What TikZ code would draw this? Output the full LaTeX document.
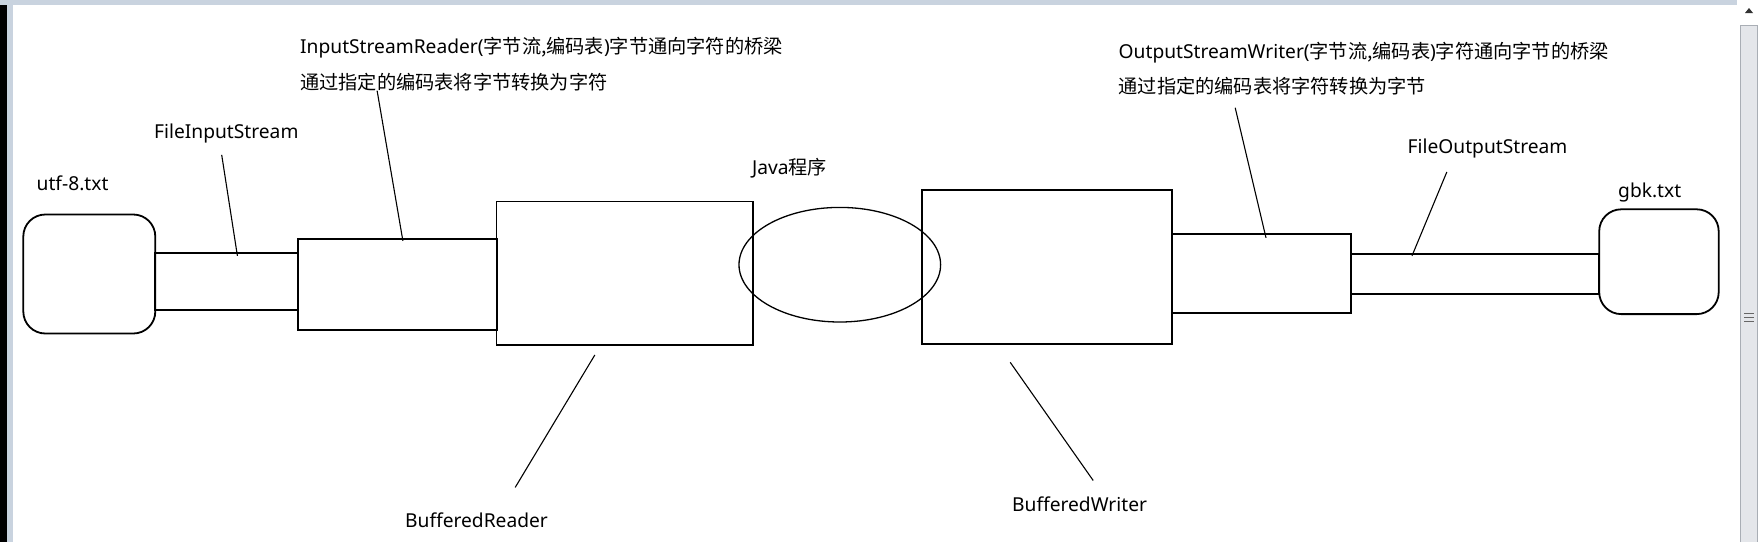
\documentclass[tikz,border=0pt]{standalone}
\usepackage{fontspec}
\usetikzlibrary{shapes.geometric}
\setmainfont{Noto Sans}
\newfontfamily\cjk{Noto Sans CJK SC}
\definecolor{framebg}{HTML}{C9D3DF}
\definecolor{thumb}{HTML}{E4E6EA}
\definecolor{thumbedge}{HTML}{A9AEB5}
\begin{document}
\begin{tikzpicture}[x=1pt,y=-1pt,
  box/.style={draw,line width=1.8pt,inner sep=0pt,anchor=north west},
  rbox/.style={box,rounded corners=22pt},
  lbl/.style={inner sep=0pt,anchor=base west,font=\fontsize{19.2}{23}\selectfont},
  leader/.style={line width=1.1pt}]
\useasboundingbox (0,0) rectangle (1760,542);
\fill[white] (0,0) rectangle (1760,542);
% screenshot frame
\fill[black] (0,5) rectangle (7,542);
\fill[framebg] (7,0) rectangle (13,542);
\fill[framebg] (0,0) rectangle (1737,5);
\fill[thumb] (1740,25) rectangle (1757,542);
\draw[thumbedge,line width=0.8pt] (1740,542) -- (1740,25) -- (1757,25) -- (1757,542);
\fill[black!80] (1745,13) -- (1753,13) -- (1749,8) -- cycle;
\foreach \yy in {313,317,321} \draw[black!60,line width=0.8pt] (1744,\yy) -- (1754,\yy);

% boxes
\node[rbox,minimum width=132pt,minimum height=119pt] (utf) at (22.4,213.6) {};
\node[box,minimum width=143pt,minimum height=56.4pt] (fis) at (154.3,252.3) {};
\node[box,minimum width=199.2pt,minimum height=91.6pt] (isr) at (297.4,237.8) {};
\node[box,minimum width=256.5pt,minimum height=143.5pt] (br) at (495.5,200.5) {};
\node[box,minimum width=250.2pt,minimum height=154pt] (bw) at (921,189) {};
\node[box,minimum width=179.1pt,minimum height=78.8pt] (osw) at (1171.2,233) {};
\node[box,minimum width=248pt,minimum height=39.7pt] (fos) at (1350.3,253.4) {};
\node[rbox,minimum width=119.5pt,minimum height=104.8pt] (gbk) at (1598.3,208.4) {};
\node[draw,ellipse,line width=1.3pt,minimum width=201.6pt,minimum height=114.6pt,inner sep=0pt] (java) at (839.8,264.7) {};

% labels
\node[lbl] (tutf) at (36.5,190) {utf-8.txt};
\node[lbl] (tfis) at (154,138) {FileInputStream};
\node[lbl] (tisr1) at (300,53.5) {InputStreamReader(\cjk 字节流,编码表\rmfamily)\cjk 字节通向字符的桥梁};
\node[lbl] (tisr2) at (300,89) {\cjk 通过指定的编码表将字节转换为字符};
\node[lbl] (tjava) at (752,174) {Java\cjk 程序};
\node[lbl] (tbr) at (405,527) {BufferedReader};
\node[lbl] (tbw) at (1012,511) {BufferedWriter};
\node[lbl] (tosw1) at (1118.5,58) {OutputStreamWriter(\cjk 字节流,编码表\rmfamily)\cjk 字符通向字节的桥梁};
\node[lbl] (tosw2) at (1118.5,93) {\cjk 通过指定的编码表将字符转换为字节};
\node[lbl] (tfos) at (1407.5,153.5) {FileOutputStream};
\node[lbl] (tgbk) at (1618,197) {gbk.txt};

% leader lines
\coordinate (a1) at (221.7,154.9); \coordinate (a2) at (237.4,255.8);
\coordinate (b1) at (377.1,90.6);  \coordinate (b2) at (402.9,240.9);
\coordinate (c1) at (594.8,355);   \coordinate (c2) at (515.2,487.4);
\coordinate (d1) at (1446.8,172);  \coordinate (d2) at (1412,255.8);
\coordinate (e1) at (1235.2,107.8); \coordinate (e2) at (1266,237.8);
\coordinate (f1) at (1010.2,362.3); \coordinate (f2) at (1093.2,480.5);
\draw[leader] (a1) -- (a2);
\draw[leader] (b1) -- (b2);
\draw[leader] (c1) -- (c2);
\draw[leader] (d1) -- (d2);
\draw[leader] (e1) -- (e2);
\draw[leader] (f1) -- (f2);
\end{tikzpicture}
\end{document}
